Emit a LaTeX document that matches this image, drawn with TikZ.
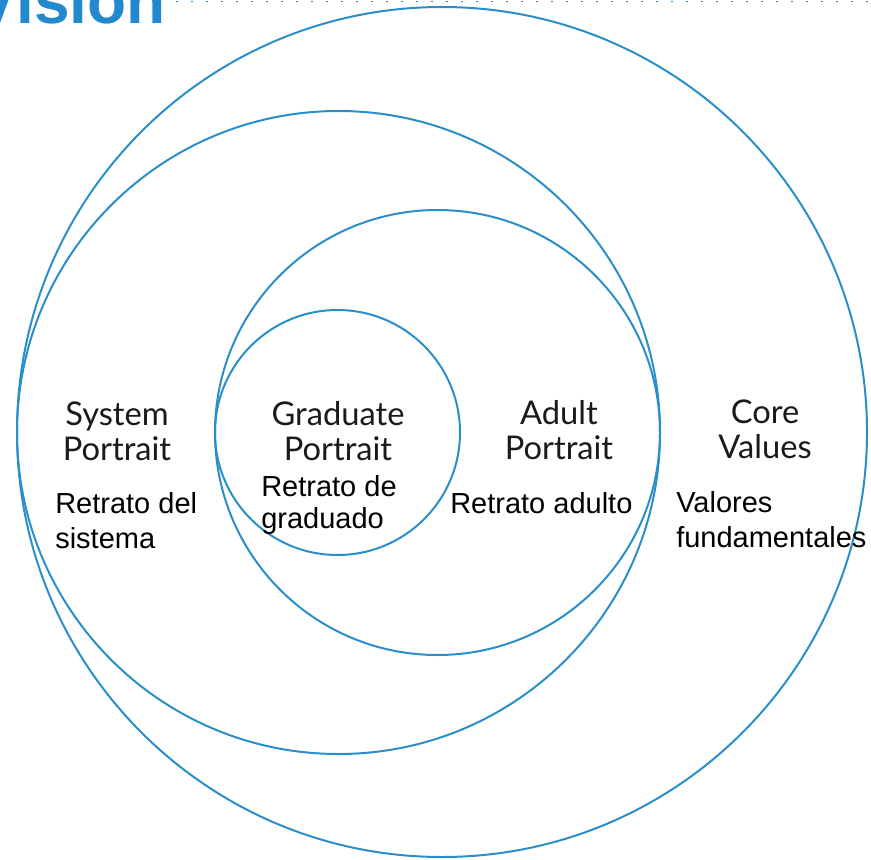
\documentclass[tikz,border=0pt]{standalone}
\usepackage{fontspec}
\setmainfont{Liberation Sans}
\newfontfamily\englishfont{Lato}
\usepackage{tikz}
\definecolor{ringblue}{RGB}{42,143,200}
\definecolor{titleblue}{RGB}{35,137,207}
\definecolor{inkgray}{RGB}{26,26,26}

\begin{document}
\begin{tikzpicture}[x = 0.75pt, y = -0.75pt,
		ring/.style = {draw = ringblue, line width = 1.5pt},
		eng/.style = {anchor = base, align = center, inner sep = 0pt, text = inkgray, font = \englishfont\fontsize{24.5}{26.25}\selectfont},
		esp/.style = {anchor = base west, align = left, inner sep = 0pt, font = \fontsize{21.75}{26.25}\selectfont}]
		\useasboundingbox (0,0) rectangle (871,860);
		\draw[titleblue, line width = 0.75pt, dash pattern = on 1.5pt off 9.75pt] (176,1) -- (871,1);
		\node[anchor = base east, inner sep = 0pt, text = titleblue, font = \fontsize{48}{48}\selectfont\bfseries] (title) at (166,23) {Vision};
		\draw[ring] (442,432) circle (425);
		\draw[ring] (338.5,432.5) circle (321.5);
		\draw[ring] (437.5,432.5) circle (222.5);
		\draw[ring] (337.5,432.5) circle (122.5);
		\node[eng] (system) at (117,460) {System\\Portrait};
		\node[eng] (graduate) at (338,460) {Graduate\\Portrait};
		\node[eng] (adult) at (559,459) {Adult\\Portrait};
		\node[eng] (core) at (765,458) {Core\\Values};
		\node[esp] (sistema) at (55,548) {Retrato del\\sistema};
		\node[esp, font = \fontsize{21.75}{24}\selectfont] (graduado) at (261,528) {Retrato de\\graduado};
		\node[esp] (adulto) at (450,513) {Retrato adulto};
		\node[esp] (valores) at (676,547) {Valores\\fundamentales};
	\end{tikzpicture}
\end{document}
